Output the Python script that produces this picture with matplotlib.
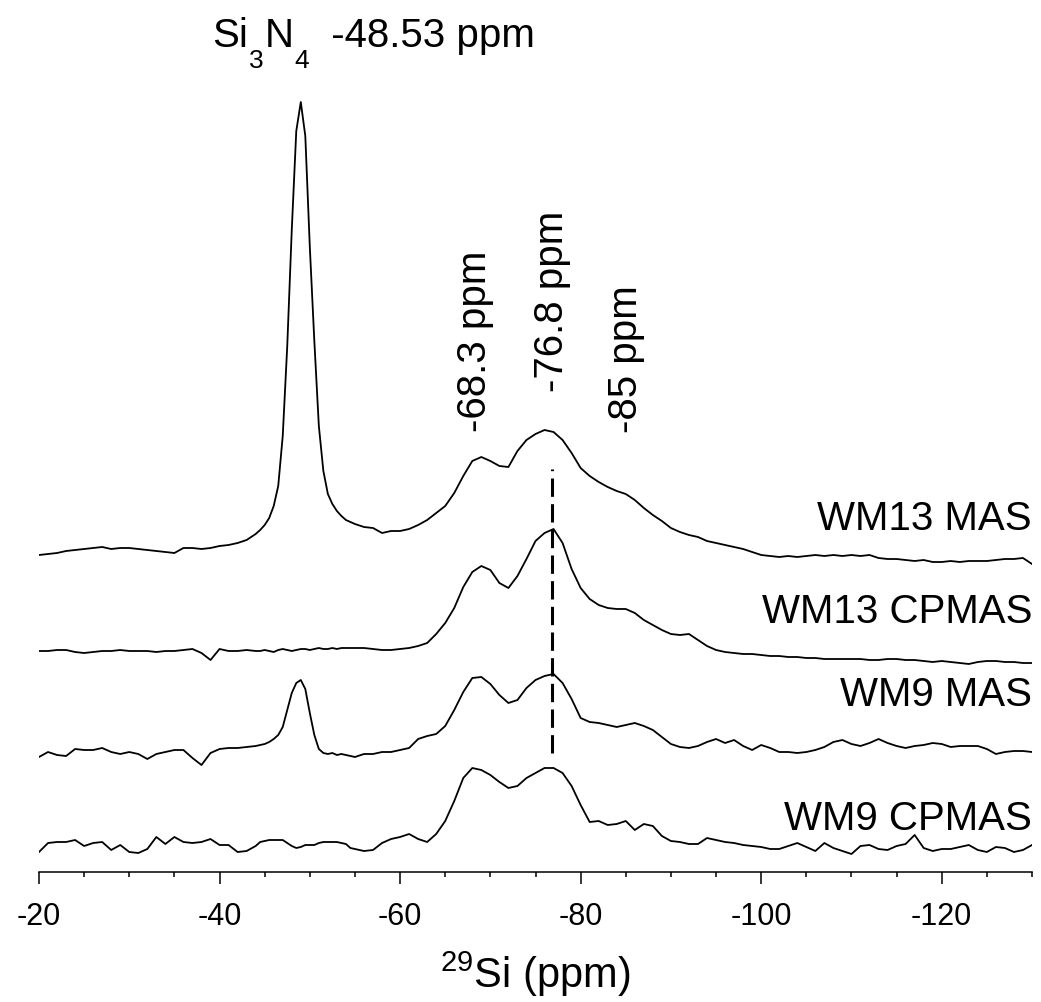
import numpy as np
import matplotlib.pyplot as plt
from matplotlib.ticker import MultipleLocator

plt.rcParams['font.family'] = 'Liberation Sans'
plt.rcParams['mathtext.fontset'] = 'custom'
plt.rcParams['mathtext.rm'] = 'Liberation Sans'
plt.rcParams['mathtext.it'] = 'Liberation Sans:italic'
plt.rcParams['axes.unicode_minus'] = False

# chemical shift axis: 1 ppm steps, 0.5 ppm steps across the Si3N4 line
ppm = -np.concatenate([np.arange(20, 44.5, 1.0),
                       np.arange(44.5, 55, 0.5),
                       np.arange(55, 130.5, 1.0)])

labels = ['WM13 MAS', 'WM13 CPMAS', 'WM9 MAS', 'WM9 CPMAS']

wm13_mas = [1, 2, 3, 5, 6, 7, 8, 9, 7, 8, 8, 7, 6, 5, 4, 3, 8, 8, 7, 8, 10, 11, 13, 16, 22,
            26, 31, 38, 50, 70, 120, 210, 326, 425, 454, 420, 309, 215, 130, 85, 62, 52, 45, 40, 36, 34,
            32, 29, 28, 23, 25, 25, 27, 31, 36, 43,
            50, 63, 80, 95, 99, 95, 90, 89, 105, 116,
            122, 126, 124, 116, 103, 88, 80, 74, 69, 65,
            62, 56, 48, 41, 35, 28, 24, 21, 19, 15,
            13, 11, 9, 7, 4, 1, 0, -1, 0, -1,
            0, 1, 0, 1, 0, 1, 0, 1, -2, -3,
            -3, -4, -5, -4, -6, -6, -5, -6, -5, -5,
            -5, -4, -3, -3, -2, -8]

wm13_cpmas = [0, 0, 1, 1, -1, -2, -1, 0, 0, 1, 0, 0, 0, -1, 0, 0, 1, 2, -2, -9, 2, 0, 0, 1, 0,
              0, 1, 0, -1, 1, 2, 1, 0, 1, 2, 2, 1, 2, 3, 2, 2, 3, 2, 3, 3, 3,
              3, 3, 2, 1, 1, 2, 3, 5, 8, 17,
              28, 43, 64, 79, 85, 81, 68, 63, 75, 92,
              110, 118, 122, 108, 82, 63, 52, 46, 43, 42,
              42, 38, 31, 26, 21, 17, 16, 17, 11, 5,
              1, -1, -2, -3, -3, -4, -5, -5, -6, -6,
              -7, -7, -8, -8, -8, -8, -8, -9, -9, -8,
              -8, -9, -9, -10, -11, -10, -11, -12, -13, -11,
              -10, -10, -11, -11, -12, -12]

wm9_mas = [-2, 3, 0, -1, 6, 5, 5, 7, 3, 1, 3, 1, -4, 1, 3, 5, 5, -3, -10, 2, 6, 7, 7, 8, 9,
           10, 11, 13, 16, 20, 28, 45, 62, 72, 75, 66, 42, 20, 6, 2, 1, 2, 0, 1, 0, -1,
           -2, 1, 1, 3, 3, 5, 7, 16, 19, 21,
           29, 45, 63, 77, 78, 71, 60, 52, 55, 67,
           75, 79, 81, 72, 56, 37, 33, 32, 30, 28,
           30, 32, 29, 25, 18, 11, 8, 7, 9, 13,
           16, 12, 15, 9, 5, 10, 7, 3, 3, 2,
           3, 5, 8, 13, 15, 11, 9, 12, 16, 12,
           9, 7, 9, 10, 12, 11, 8, 9, 9, 9,
           6, 1, 3, 4, 4, 3]

wm9_cpmas = [-4, 5, 6, 6, 8, 2, 5, 6, -2, 3, -4, -5, -1, 11, 4, 11, 6, 5, 6, 9, 3, 3, -4, -3, 2,
             6, 7, 8, 8, 8, 8, 5, 2, 0, 1, 3, 3, 3, 5, 6, 6, 6, 6, 5, 4, 0,
             -1, -3, -2, 5, 9, 11, 14, 9, 6, 14,
             27, 47, 70, 80, 78, 73, 66, 60, 62, 70,
             75, 80, 80, 75, 62, 43, 26, 27, 23, 24,
             27, 18, 24, 22, 12, 7, 6, 4, 4, 10,
             8, 6, 5, 3, 2, 1, -1, -1, 2, 5,
             1, -3, 5, 0, -3, -6, 2, 3, -1, -2,
             2, 4, 13, 0, -3, -1, -1, 1, 3, -2,
             -4, 1, 0, -4, -2, 3]

spectra = [wm13_mas, wm13_cpmas, wm9_mas, wm9_cpmas]
offsets = [316, 221, 117, 24]
label_y = [353, 260, 177, 53]

peak_marks = ['-68.3', '-76.8', '-85']
peak_text_y = [440, 480, 439]
si3n4_shift = -48.53

fig = plt.figure(figsize=(10.41, 10.02), dpi=100)
ax = fig.add_axes([39 / 1041, 130 / 1002, 993 / 1041, 872 / 1002])

for spec, off, lab, ly in zip(spectra, offsets, labels, label_y):
    ax.plot(ppm, np.array(spec) + off, color='black', lw=1.3)
    ax.text(-130, ly, lab, fontsize=29, ha='right', va='center')

# guide line through the -76.8 ppm resonance
ax.plot([-76.8, -76.8], [119, 403], color='black', lw=2.2, linestyle=(0, (6, 2.4)))

for mark, ty in zip(peak_marks, peak_text_y):
    ax.text(float(mark), ty, mark + ' ppm', rotation=90, fontsize=29, ha='center', va='bottom')

# Si3N4 label, built piece by piece so the subscripts sit low
t_si = ax.text(-39.2, 825, 'Si', fontsize=29, ha='left', va='baseline')
t_3 = ax.annotate('3', xy=(1, 0), xycoords=t_si, xytext=(0.5, -9), textcoords='offset points',
                  fontsize=19, ha='left', va='baseline')
t_n = ax.annotate('N', xy=(1, 0), xycoords=(t_3, t_si), xytext=(1, 0), textcoords='offset points',
                  fontsize=29, ha='left', va='bottom')
t_4 = ax.annotate('4', xy=(1, 0), xycoords=t_n, xytext=(0, -9), textcoords='offset points',
                  fontsize=19, ha='left', va='baseline')
ax.annotate('  %.2f ppm' % si3n4_shift, xy=(1, 0), xycoords=(t_4, t_si), fontsize=29,
            ha='left', va='bottom')

ax.set_xlim(-20, -130)
ax.set_ylim(0, 872)
ax.set_xticks([-20, -40, -60, -80, -100, -120])
ax.xaxis.set_minor_locator(MultipleLocator(5))
ax.tick_params(axis='x', which='major', length=8.5, width=1.1, labelsize=22, pad=13)
ax.tick_params(axis='x', which='minor', length=3.6, width=1.1)
ax.set_yticks([])
for side in ['left', 'right', 'top']:
    ax.spines[side].set_visible(False)
ax.spines['bottom'].set_linewidth(1.1)
ax.set_xlabel(r'$^{29}$Si (ppm)', fontsize=30, labelpad=13)

fig.savefig('out.png', dpi=100)
